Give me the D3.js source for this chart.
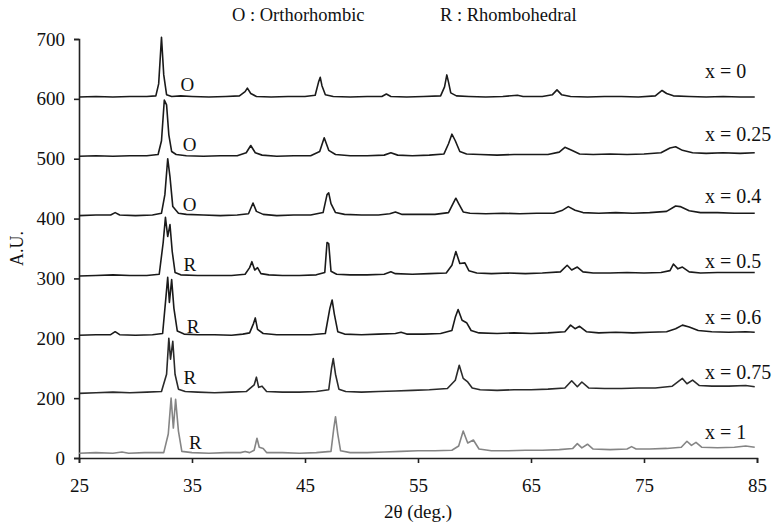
<!DOCTYPE html>
<html><head><meta charset="utf-8">
<script src="https://cdn.jsdelivr.net/npm/d3@7"></script>
<style>
html,body{margin:0;padding:0;background:#fff;}
svg{display:block;}
svg text{font-family:"Liberation Serif","Times New Roman",serif;}
</style></head>
<body><svg id="chart" width="775" height="525"></svg>
<script>
// ---- data (2θ in degrees, intensity in A.U.) ----
const xTickValues = [25,35,45,55,65,75,85];
const yTickValues = [0,100,200,300,400,500,600,700];
const yTickLabels = ["0","200","200","300","400","500","600","700"];
const seriesNames = ["x = 0","x = 0.25","x = 0.4","x = 0.5","x = 0.6","x = 0.75","x = 1"];
const phaseNames  = ["O","O","O","R","R","R","R"];
const seriesLabelY = [635,530,426,317,224,132,32];
const phaseLabelX  = [34.6,34.8,34.8,34.8,35.1,34.8,35.3];
const phaseLabelY  = [613,513,413,312,209,124,15];
const legendTexts  = ["O : Orthorhombic","R : Rhombohedral"];

const pat_x0 = [[25,603],[26.5,604],[28,603],[29.5,604],[31,604],[31.8,605],[32.05,625],[32.3,703],[32.5,640],[32.75,607],[33.2,604],[34,605],[35,604],[36.5,603],[38,604],[39.2,605],[39.7,612],[39.9,618],[40.2,609],[40.7,604],[42,603],[43.5,604],[45,604],[45.9,606],[46.2,628],[46.35,636],[46.5,622],[46.8,607],[47.5,604],[49,603],[50.5,604],[51.8,604],[52.2,608],[52.6,604],[54,603],[55.5,604],[57,605],[57.35,620],[57.55,640],[57.7,628],[57.9,610],[58.4,605],[59.5,604],[61,603],[62.5,604],[63.8,606],[64.3,604],[66,604],[66.9,607],[67.3,615],[67.7,607],[68.5,604],[70,603],[71.5,604],[73,604],[74.5,603],[76,605],[76.6,614],[77,609],[77.6,605],[79,604],[80.5,603],[82,604],[83.5,603],[84.8,603]];
const pat_x025 = [[25,504],[26.5,505],[28,504],[29.5,505],[31,505],[32,507],[32.3,530],[32.55,598],[32.75,590],[32.95,540],[33.2,512],[33.6,507],[34.5,505],[36,504],[37.5,505],[39,505],[39.8,510],[40.2,522],[40.6,510],[41.2,506],[42.5,504],[44,505],[45.5,505],[46.3,512],[46.7,535],[47.1,514],[47.7,507],[49,505],[50.5,505],[52,506],[52.6,510],[53.2,506],[54.5,505],[56,506],[57.3,508],[57.7,525],[58,541],[58.3,530],[58.7,512],[59.3,508],[60.5,507],[62,506],[63.5,507],[65,507],[66.5,507],[67.5,511],[68,519],[68.6,514],[69.3,508],[70.5,507],[72,508],[73.5,507],[75,508],[76.5,510],[77.3,518],[77.8,520],[78.4,514],[79.3,510],[80.5,509],[82,510],[83.5,509],[84.8,510]];
const pat_x04 = [[25,405],[26.5,406],[27.8,406],[28.2,410],[28.6,406],[30,405],[31.5,406],[32.3,409],[32.6,440],[32.85,500],[33.05,470],[33.3,420],[33.8,409],[34.5,407],[36,406],[37.5,405],[39,406],[40,408],[40.4,426],[40.7,412],[41.3,407],[42.5,405],[44,406],[45.5,406],[46.6,410],[46.95,440],[47.1,443],[47.3,425],[47.7,410],[48.5,407],[50,406],[51.5,406],[52.5,408],[53,411],[53.6,407],[55,407],[56.5,407],[57.7,410],[58.1,425],[58.35,434],[58.6,425],[59,411],[59.6,409],[61,408],[62.5,409],[64,408],[65.5,409],[67,409],[67.8,414],[68.3,420],[68.9,414],[69.6,410],[71,409],[72.5,410],[74,409],[75.5,410],[77,412],[77.8,421],[78.2,420],[79,413],[80,410],[81.5,410],[83,409],[84.8,409]];
const pat_x05 = [[25,304],[26.5,305],[28,306],[29.5,305],[31,305],[32.1,307],[32.45,360],[32.65,402],[32.85,370],[33.05,390],[33.25,345],[33.5,310],[34,306],[35.5,305],[37,305],[38.5,305],[39.7,307],[40.1,318],[40.3,328],[40.55,314],[40.8,318],[41.1,308],[41.8,306],[43,305],[44.5,305],[46,306],[46.75,310],[46.95,360],[47.1,358],[47.3,312],[47.8,307],[49,306],[50.5,306],[52,307],[52.6,311],[53,308],[54.5,307],[56,308],[57.5,309],[58,322],[58.35,345],[58.7,325],[59.15,326],[59.5,313],[60.2,309],[61.5,308],[63,309],[64.5,308],[66,309],[67.6,311],[68.2,322],[68.6,314],[69.1,319],[69.6,311],[70.5,309],[72,309],[73.5,310],[75,309],[76.5,310],[77.3,313],[77.6,324],[78,316],[78.4,319],[79,311],[80,309],[81.5,310],[83,310],[84.8,310]];
const pat_x06 = [[25,205],[26.5,206],[27.8,206],[28.2,211],[28.6,206],[30,205],[31.5,206],[32.4,208],[32.7,270],[32.85,302],[33.0,260],[33.2,298],[33.4,250],[33.7,212],[34.3,207],[35.5,206],[37,206],[38.5,205],[39.5,207],[40.1,209],[40.45,225],[40.6,234],[40.8,215],[41.3,208],[42.5,206],[44,206],[45.5,206],[46.8,208],[47.2,250],[47.4,264],[47.6,240],[47.9,211],[48.5,207],[50,206],[51.5,207],[53,208],[53.5,210],[54,207],[55.5,207],[57,208],[58,213],[58.3,235],[58.55,248],[58.9,230],[59.3,226],[59.7,213],[60.4,209],[62,208],[63.5,209],[65,208],[66.5,209],[68,211],[68.5,222],[68.9,216],[69.3,220],[69.9,211],[71,209],[72.5,210],[74,209],[75.5,210],[77,211],[77.8,216],[78.4,222],[79,219],[79.8,213],[81,211],[82.5,210],[84,211],[84.8,210]];
const pat_x075 = [[25,108],[26.5,109],[28,110],[29.5,109],[31,110],[32.3,111],[32.75,140],[32.95,200],[33.1,165],[33.3,195],[33.5,140],[33.8,115],[34.4,111],[35.5,110],[37,109],[38.5,110],[39.8,111],[40.5,122],[40.7,135],[40.9,118],[41.2,120],[41.6,111],[43,110],[44.5,110],[46,111],[47.1,114],[47.35,150],[47.5,166],[47.7,140],[48,115],[48.6,111],[50,110],[51.5,111],[53,112],[54.5,113],[56,114],[57.6,116],[58.3,130],[58.65,155],[59,133],[59.4,127],[59.8,117],[60.5,114],[62,113],[63.5,114],[65,114],[66.5,115],[68,117],[68.6,129],[69.1,119],[69.5,127],[70.1,117],[71.5,116],[73,116],[74.5,117],[76,117],[77.5,120],[78.4,133],[78.8,124],[79.3,130],[79.9,121],[81,120],[82.5,120],[84,121],[84.8,119]];
const pat_x1 = [[25,8],[26.5,9],[28,8],[28.8,10],[29.4,8],[30.8,9],[32.5,9],[32.9,40],[33.15,100],[33.35,50],[33.55,98],[33.8,45],[34.1,11],[35,9],[36.5,8],[38,9],[39.3,9],[39.7,11],[40.1,9],[40.5,13],[40.75,33],[40.95,18],[41.3,16],[41.6,9],[43,9],[44.5,8],[46,9],[47.3,11],[47.55,50],[47.7,69],[47.9,40],[48.15,12],[49,9],[50.5,9],[52,10],[53.5,11],[55,12],[56.5,12],[58,13],[58.6,20],[59.0,45],[59.4,25],[59.9,30],[60.4,15],[61.5,12],[63,12],[64.5,13],[66,13],[67.5,14],[68.7,16],[69.1,24],[69.5,17],[70,23],[70.5,15],[72,14],[73.5,15],[73.9,19],[74.3,15],[75.5,15],[77,16],[78.3,18],[78.8,28],[79.2,21],[79.6,26],[80.1,18],[81.5,17],[83,18],[84,20],[84.8,18]];

const patterns = [pat_x0,pat_x025,pat_x04,pat_x05,pat_x06,pat_x075,pat_x1];
const lineColors = ["#1a1a1a","#1a1a1a","#1a1a1a","#1a1a1a","#1a1a1a","#2a2a2a","#858585"];

// ---- layout ----
const W = 775, H = 525;
const margin = {left:79, right:18, top:39, bottom:67};
const svg = d3.select("#chart");
const x = d3.scaleLinear().domain([25,85]).range([margin.left, W - margin.right]);
const y = d3.scaleLinear().domain([0,700]).range([H - margin.bottom, margin.top]);

// axes
const xAxis = d3.axisBottom(x).tickValues(xTickValues).tickSize(5).tickPadding(16).tickFormat(d3.format("d"));
const yAxis = d3.axisLeft(y).tickValues(yTickValues).tickSize(5).tickPadding(9)
  .tickFormat((d,i) => yTickLabels[i]);

const gx = svg.append("g").attr("transform", `translate(0,${y(0)})`).call(xAxis);
const gy = svg.append("g").attr("transform", `translate(${x(25)},0)`).call(yAxis);
[gx, gy].forEach(g => {
  g.attr("font-family", null).attr("font-size", null);
  g.selectAll("path.domain").attr("stroke","#222").attr("stroke-width",1.6);
  g.selectAll(".tick line").attr("stroke","#222").attr("stroke-width",1.6);
  g.selectAll(".tick text").attr("fill","#111").style("font-size","19px");
});

// traces
const line = d3.line().x(d => x(d[0])).y(d => y(d[1]));
svg.append("g").selectAll("path.trace").data(patterns).join("path")
  .attr("class","trace")
  .attr("d", line)
  .attr("fill","none")
  .attr("stroke",(d,i)=>lineColors[i])
  .attr("stroke-width",1.6)
  .attr("stroke-linejoin","round");

// series labels
svg.append("g").selectAll("text").data(seriesNames).join("text")
  .attr("x", x(80.4)).attr("y",(d,i)=>y(seriesLabelY[i]))
  .attr("fill","#111").style("font-size","20px").text(d=>d);

// phase labels
svg.append("g").selectAll("text").data(phaseNames).join("text")
  .attr("x",(d,i)=>x(phaseLabelX[i])).attr("y",(d,i)=>y(phaseLabelY[i]))
  .attr("text-anchor","middle").attr("fill","#111").style("font-size","19px").text(d=>d);

// legend texts at top
svg.append("text").attr("x",232).attr("y",21).attr("fill","#111").style("font-size","18.5px").text(legendTexts[0]);
svg.append("text").attr("x",440).attr("y",21).attr("fill","#111").style("font-size","18.5px").text(legendTexts[1]);

// axis titles
svg.append("text").attr("x",(x(25)+x(85))/2).attr("y",518).attr("text-anchor","middle")
  .attr("fill","#111").style("font-size","19px").text("2θ (deg.)");
svg.append("text").attr("transform",`translate(23,${(y(0)+y(700))/2}) rotate(-90)`)
  .attr("text-anchor","middle").attr("fill","#111").style("font-size","18px").text("A.U.");
</script></body></html>
